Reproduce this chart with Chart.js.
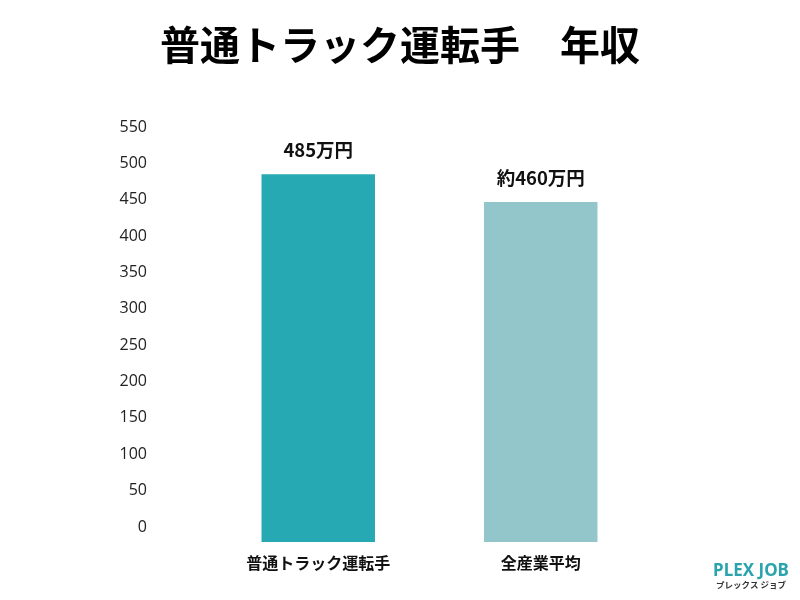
<!DOCTYPE html>
<html>
<head>
<meta charset="utf-8">
<script src="https://cdn.jsdelivr.net/npm/chart.js@4"></script>
<style>
  html, body { margin: 0; padding: 0; background: #ffffff; }
  #wrap { width: 800px; height: 600px; }
</style>
</head>
<body>
<div id="wrap"><canvas id="c" width="800" height="600"></canvas></div>
<script>
const TITLE = '普通トラック運転手　年収';
const categories = ['普通トラック運転手', '全産業平均'];
const salaryValues = [485, 447];
const valueLabels = ['485万円', '約460万円'];
const barColors = ['#26a9b3', '#92c6ca'];
const yTicks = [0, 50, 100, 150, 200, 250, 300, 350, 400, 450, 500, 550];
const Y_MIN = -20.6;
const Y_MAX = 550;
const BRAND = 'PLEX JOB';
const BRAND_SUB = 'プレックス ジョブ';

const FONT = '"Noto Sans CJK JP", "Noto Sans", sans-serif';

const titlePlugin = {
  id: 'customTitle',
  afterDraw(chart) {
    const ctx = chart.ctx;
    ctx.save();
    ctx.font = 'bold 40px ' + FONT;
    ctx.fillStyle = '#000000';
    ctx.textAlign = 'center';
    ctx.textBaseline = 'middle';
    ctx.fillText(TITLE, 400, 45);
    ctx.restore();
  }
};

const valueLabelPlugin = {
  id: 'valueLabels',
  afterDatasetsDraw(chart) {
    const ctx = chart.ctx;
    const meta = chart.getDatasetMeta(0);
    ctx.save();
    ctx.font = 'bold 18.5px ' + FONT;
    ctx.fillStyle = '#111111';
    ctx.textAlign = 'center';
    ctx.textBaseline = 'middle';
    meta.data.forEach((bar, i) => {
      ctx.fillText(valueLabels[i], bar.x, bar.y - 24);
    });
    ctx.restore();
  }
};

const brandPlugin = {
  id: 'brand',
  afterDraw(chart) {
    const ctx = chart.ctx;
    ctx.save();
    ctx.textAlign = 'center';
    ctx.textBaseline = 'middle';
    ctx.font = 'bold 17px "Noto Sans", sans-serif';
    ctx.fillStyle = '#2aa3ad';
    ctx.fillText(BRAND, 751, 571);
    ctx.font = 'bold 8.5px ' + FONT;
    ctx.fillStyle = '#333333';
    ctx.fillText(BRAND_SUB, 751, 585);
    ctx.restore();
  }
};

new Chart(document.getElementById('c'), {
  type: 'bar',
  data: {
    labels: categories,
    datasets: [{
      data: salaryValues,
      backgroundColor: barColors,
      base: Y_MIN,
      borderWidth: 0,
      categoryPercentage: 1,
      barPercentage: 0.51
    }]
  },
  options: {
    responsive: false,
    animation: false,
    devicePixelRatio: 1,
    layout: { padding: { left: 100, right: 148, top: 127, bottom: 9 } },
    plugins: {
      legend: { display: false },
      tooltip: { enabled: false },
      title: { display: false }
    },
    scales: {
      x: {
        grid: { display: false, drawTicks: false },
        border: { display: false },
        afterFit(scale) {
          scale.height = 49;
          scale.paddingLeft = 0;
          scale.paddingRight = 0;
        },
        ticks: {
          color: '#111111',
          padding: 11,
          font: { family: FONT, size: 16, weight: 'bold' }
        }
      },
      y: {
        min: Y_MIN,
        max: Y_MAX,
        grid: { display: false, drawTicks: false },
        border: { display: false },
        afterBuildTicks(scale) {
          scale.ticks = yTicks.map(v => ({ value: v }));
        },
        afterFit(scale) {
          scale.width = 107;
          scale.paddingTop = 0;
          scale.paddingBottom = 0;
        },
        ticks: {
          color: '#222222',
          padding: 60,
          font: { family: '"Open Sans", "Noto Sans", sans-serif', size: 16 }
        }
      }
    }
  },
  plugins: [titlePlugin, valueLabelPlugin, brandPlugin]
});
</script>
</body>
</html>
